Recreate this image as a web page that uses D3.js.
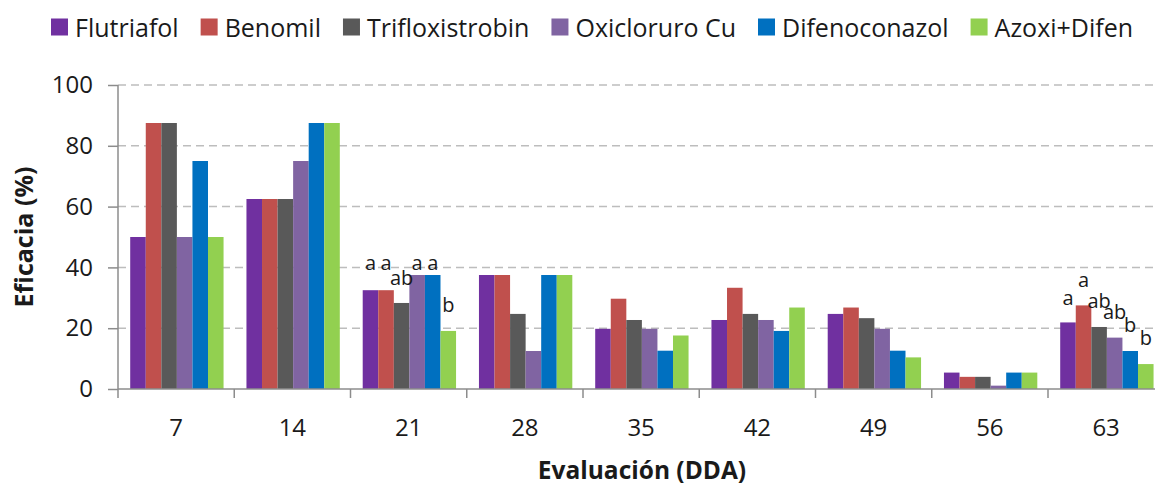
<!DOCTYPE html>
<html>
<head>
<meta charset="utf-8">
<script src="https://cdnjs.cloudflare.com/ajax/libs/d3/7.8.5/d3.min.js"></script>
<style>
  html, body { margin: 0; padding: 0; background: #fff; }
  svg { display: block; font-family: "Open Sans", "Noto Sans", sans-serif; }
</style>
</head>
<body>
<div id="chart"></div>
<script>
// data
var categories = ["7", "14", "21", "28", "35", "42", "49", "56", "63"];
var seriesNames = ["Flutriafol", "Benomil", "Trifloxistrobin", "Oxicloruro Cu", "Difenoconazol", "Azoxi+Difen"];
var seriesColors = ["#7030A0", "#C0504D", "#595959", "#8064A2", "#0070C0", "#92D050"];
var flutriafol      = [50, 62.5, 32.5, 37.5, 19.8, 22.7, 24.7, 5.4, 21.9];
var benomil         = [87.5, 62.5, 32.5, 37.5, 29.7, 33.3, 26.8, 4, 27.5];
var trifloxistrobin = [87.5, 62.5, 28.3, 24.7, 22.7, 24.7, 23.3, 4, 20.4];
var oxicloruro      = [50, 75, 37.5, 12.5, 19.8, 22.7, 19.8, 1.1, 16.9];
var difenoconazol   = [75, 87.5, 37.5, 37.5, 12.6, 19.1, 12.6, 5.4, 12.5];
var azoxiDifen      = [50, 87.5, 19.1, 37.5, 17.6, 26.8, 10.4, 5.4, 8.2];
var yTicks = [0, 20, 40, 60, 80, 100];
// letter annotations: [category, series index, text, value where the letter sits]
var letters = [
  ["21", 0, "a", 41.6], ["21", 1, "a", 41.6], ["21", 2, "ab", 36.6],
  ["21", 3, "a", 41.6], ["21", 4, "a", 41.6], ["21", 5, "b", 27.7],
  ["63", 0, "a", 29.9], ["63", 1, "a", 36], ["63", 2, "ab", 28.8],
  ["63", 3, "ab", 25.2], ["63", 4, "b", 21.1], ["63", 5, "b", 16.9]
];

var allSeries = [flutriafol, benomil, trifloxistrobin, oxicloruro, difenoconazol, azoxiDifen];

var w = 1155, h = 485;
var plotLeft = 118, plotTop = 85, plotBottom = 389;
var bandW = 116.25;

var svg = d3.select("#chart").append("svg")
    .attr("width", w)
    .attr("height", h);

var x0 = d3.scaleBand()
    .domain(categories)
    .range([plotLeft, plotLeft + bandW * categories.length])
    .padding(0);

var x1 = d3.scaleBand()
    .domain(d3.range(seriesNames.length))
    .range([bandW * 0.105, bandW * 0.908])
    .padding(0);

var y = d3.scaleLinear()
    .domain([0, 100])
    .range([plotBottom, plotTop]);

// grid lines
svg.append("g")
    .selectAll("line")
    .data(yTicks.filter(function (d) { return d > 0; }))
    .enter().append("line")
    .attr("x1", plotLeft)
    .attr("x2", w)
    .attr("y1", function (d) { return y(d); })
    .attr("y2", function (d) { return y(d); })
    .style("stroke", "#bdbdbd")
    .style("stroke-width", 1.5)
    .style("stroke-dasharray", "8,5");

// bars
var groups = svg.append("g")
    .selectAll("g")
    .data(categories)
    .enter().append("g")
    .attr("transform", function (d) { return "translate(" + x0(d) + ",0)"; });

groups.selectAll("rect")
    .data(function (d, i) {
        return allSeries.map(function (s, k) { return { k: k, v: s[i] }; });
    })
    .enter().append("rect")
    .attr("x", function (d) { return x1(d.k); })
    .attr("width", x1.bandwidth())
    .attr("y", function (d) { return y(d.v); })
    .attr("height", function (d) { return y(0) - y(d.v); })
    .style("fill", function (d) { return seriesColors[d.k]; });

// y axis
var yAxis = svg.append("g")
    .attr("transform", "translate(" + plotLeft + ",0)")
    .call(d3.axisLeft(y).tickValues(yTicks).tickSize(10).tickPadding(15));
yAxis.select(".domain").style("stroke", "#8c8c8c").style("stroke-width", 1.5)
    .attr("d", "M0," + plotTop + "V" + plotBottom);
yAxis.selectAll(".tick line").style("stroke", "#8c8c8c").style("stroke-width", 1.5);
yAxis.selectAll(".tick text")
    .style("font-size", "24px")
    .style("fill", "#1a1a1a")
    .style("font-family", "'Open Sans', sans-serif");

// x axis
var xAxis = svg.append("g")
    .attr("transform", "translate(0," + plotBottom + ")");
xAxis.append("line")
    .attr("x1", plotLeft)
    .attr("x2", w)
    .style("stroke", "#8c8c8c")
    .style("stroke-width", 1.5);
xAxis.selectAll("line.tk")
    .data(categories.concat(["end"]))
    .enter().append("line")
    .attr("class", "tk")
    .attr("x1", function (d, i) { return plotLeft + i * x0.step(); })
    .attr("x2", function (d, i) { return plotLeft + i * x0.step(); })
    .attr("y1", 0)
    .attr("y2", 9)
    .style("stroke", "#8c8c8c")
    .style("stroke-width", 1.5);
xAxis.selectAll("text")
    .data(categories)
    .enter().append("text")
    .attr("x", function (d) { return x0(d) + x0.bandwidth() / 2; })
    .attr("y", 47)
    .attr("text-anchor", "middle")
    .style("font-size", "24px")
    .style("fill", "#1a1a1a")
    .text(function (d) { return d; });

// letters
svg.append("g")
    .selectAll("text")
    .data(letters)
    .enter().append("text")
    .attr("x", function (d) { return x0(d[0]) + x1(d[1]) + x1.bandwidth() / 2; })
    .attr("y", function (d) { return y(d[3]); })
    .attr("dy", "0.35em")
    .attr("text-anchor", "middle")
    .style("font-size", "20px")
    .style("fill", "#1a1a1a")
    .text(function (d) { return d[2]; });

// axis titles
svg.append("text")
    .attr("transform", "translate(33,237) rotate(-90)")
    .attr("text-anchor", "middle")
    .style("font-size", "25px")
    .style("font-weight", "bold")
    .style("fill", "#1a1a1a")
    .text("Eficacia (%)");

svg.append("text")
    .attr("x", 642)
    .attr("y", 479)
    .attr("text-anchor", "middle")
    .style("font-size", "24.5px")
    .style("font-weight", "bold")
    .style("fill", "#1a1a1a")
    .text("Evaluación (DDA)");

// legend
var legend = svg.append("g");
var lx = 51;
seriesNames.forEach(function (name, i) {
    legend.append("rect")
        .attr("x", lx)
        .attr("y", 18.5)
        .attr("width", 17)
        .attr("height", 17)
        .style("fill", seriesColors[i]);
    var t = legend.append("text")
        .attr("x", lx + 24)
        .attr("y", 36.5)
        .style("font-size", "25px")
        .style("fill", "#1a1a1a")
        .text(name);
    lx += 24 + t.node().getComputedTextLength() + 22;
});
</script>
</body>
</html>
